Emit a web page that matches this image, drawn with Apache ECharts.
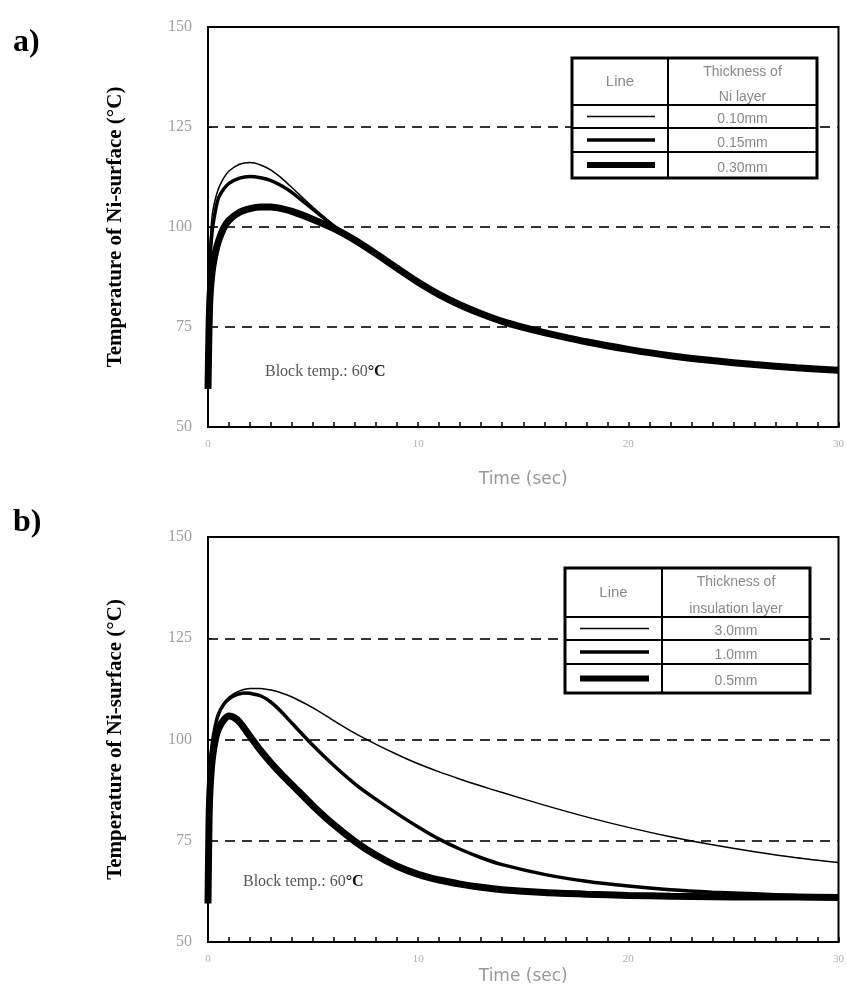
<!DOCTYPE html>
<html>
<head>
<meta charset="utf-8">
<script src="https://cdn.jsdelivr.net/npm/echarts@6/dist/echarts.min.js"></script>
<style>
  html, body { margin: 0; padding: 0; background: #fff; }
  #chart { width: 847px; height: 989px; }
</style>
</head>
<body>
<div id="chart"></div>
<script>
// panel a) - thickness of Ni layer
var timesA = [0, 0.05, 0.1, 0.2, 0.35, 0.5, 0.75, 1, 1.5, 2, 2.5, 3, 3.5, 4, 5, 6, 7, 8, 9, 10, 11, 12, 13, 14, 15, 16, 18, 20, 22, 24, 26, 28, 30]
var thinA = [60, 88, 96, 103, 107, 109.6, 112.3, 114, 115.7, 116.1, 115.5, 114.2, 112.2, 109.8, 104.9, 100.4, 96.7, 93.3, 89.8, 86.3, 83.2, 80.6, 78.4, 76.5, 75, 73.7, 71.4, 69.5, 68, 66.8, 65.8, 65, 64.4]
var medA = [60, 84, 92, 99, 104, 107.3, 109.5, 110.9, 112.2, 112.6, 112.3, 111.6, 110.3, 108.6, 104.4, 100.2, 96.6, 93.2, 89.7, 86.2, 83.1, 80.5, 78.3, 76.4, 74.9, 73.6, 71.3, 69.4, 67.9, 66.7, 65.7, 64.9, 64.3]
var thickA = [59.5, 75, 83, 89, 93.5, 96.5, 99.8, 101.7, 103.7, 104.6, 105, 105, 104.6, 103.9, 101.9, 99.6, 96.7, 93.3, 89.7, 86.2, 83.1, 80.5, 78.3, 76.4, 74.9, 73.6, 71.3, 69.4, 67.8, 66.6, 65.6, 64.8, 64.2]
var legendHeadA = ['Thickness of', 'Ni layer']
var legendRowsA = ['0.10mm', '0.15mm', '0.30mm']

// panel b) - thickness of insulation layer
var timesB = [0, 0.05, 0.1, 0.2, 0.35, 0.5, 0.75, 1, 1.25, 1.5, 1.75, 2, 2.5, 3, 3.5, 4, 5, 6, 7, 8, 9, 10, 11, 12, 13, 14, 16, 18, 20, 22, 24, 26, 28, 30]
var thinB = [60, 85, 93, 99, 103.5, 106.5, 109, 110.5, 111.4, 112, 112.4, 112.6, 112.6, 112.2, 111.5, 110.5, 107.8, 104.6, 101.5, 98.8, 96.3, 94, 92, 90.2, 88.5, 86.9, 83.8, 80.9, 78.3, 76, 74, 72.3, 70.8, 69.6]
var medB = [60, 85, 93, 99, 103.5, 106.3, 108.7, 110, 110.8, 111.3, 111.5, 111.4, 110.8, 109.2, 106.8, 104, 98.5, 93.5, 89, 85.2, 81.7, 78.4, 75.4, 72.9, 70.8, 69.1, 66.7, 65, 63.8, 62.9, 62.3, 61.9, 61.5, 61.3]
var thickB = [59.5, 80, 88, 95, 100, 102.6, 104.8, 105.8, 105.4, 104.3, 102.6, 100.8, 97.3, 94.2, 91.4, 88.8, 83.6, 78.9, 74.8, 71.4, 68.7, 66.7, 65.3, 64.3, 63.5, 62.9, 62.2, 61.8, 61.5, 61.3, 61.2, 61.1, 61.1, 61]
var legendHeadB = ['Thickness of', 'insulation layer']
var legendRowsB = ['3.0mm', '1.0mm', '0.5mm']

var lineWidths = [1.5, 3.5, 7]

function pairs(ts, vs) {
  return ts.map(function (t, i) { return [t, vs[i]] })
}

function xAxisFor(idx, gap) {
  return {
    gridIndex: idx,
    type: 'value',
    min: 0,
    max: 30,
    interval: 1,
    axisLine: { lineStyle: { color: '#000', width: 2 } },
    axisTick: { inside: true, length: 5, lineStyle: { color: '#000', width: 1.5 } },
    axisLabel: {
      color: '#b0b0b0',
      fontSize: 11,
      fontFamily: 'Liberation Serif',
      margin: 12,
      formatter: function (v) { return v % 10 === 0 ? String(v) : '' }
    },
    splitLine: { show: false },
    name: 'Time (sec)',
    nameLocation: 'middle',
    nameGap: gap,
    nameTextStyle: { color: '#999', fontSize: 17, fontFamily: 'DejaVu Sans' }
  }
}

function yAxisFor(idx) {
  return {
    gridIndex: idx,
    type: 'value',
    min: 50,
    max: 150,
    interval: 25,
    axisLine: { show: true, lineStyle: { color: '#000', width: 2 } },
    axisTick: { show: true, inside: true, length: 4, lineStyle: { color: '#000' } },
    axisLabel: { color: '#a0a0a0', fontSize: 16, fontFamily: 'Liberation Serif', margin: 16 },
    splitLine: {
      show: true,
      showMinLine: false,
      showMaxLine: false,
      lineStyle: { color: '#333', width: 2, type: [10, 7] }
    },
    name: 'Temperature of Ni-surface (°C)',
    nameLocation: 'middle',
    nameGap: 82,
    nameTextStyle: { color: '#000', fontSize: 21, fontWeight: 'bold', fontFamily: 'Liberation Serif' }
  }
}

function lineSeries(idx, ts, vs, w) {
  return {
    type: 'line',
    xAxisIndex: idx,
    yAxisIndex: idx,
    data: pairs(ts, vs),
    showSymbol: false,
    smooth: 0.25,
    lineStyle: { color: '#000', width: w },
    z: 3
  }
}

// legend table drawn as graphic elements
function table(x, y, w, colX, rowY, head, rows) {
  var h = rowY[3] - y
  var els = []
  els.push({ type: 'rect', shape: { x: x, y: y, width: w, height: h },
    style: { fill: '#fff', stroke: '#000', lineWidth: 3 }, z: 100 })
  els.push({ type: 'line', shape: { x1: colX, y1: y, x2: colX, y2: y + h },
    style: { stroke: '#000', lineWidth: 2 }, z: 101 })
  for (var i = 0; i < 3; i++) {
    els.push({ type: 'line', shape: { x1: x, y1: rowY[i], x2: x + w, y2: rowY[i] },
      style: { stroke: '#000', lineWidth: 2 }, z: 101 })
  }
  var font = '14px "Liberation Sans"'
  var cx1 = (x + colX) / 2
  var cx2 = (colX + x + w) / 2
  els.push({ type: 'text', x: cx1, y: (y + rowY[0]) / 2,
    style: { text: 'Line', fill: '#888', font: '15px "Liberation Sans"', align: 'center', verticalAlign: 'middle' }, z: 102 })
  els.push({ type: 'text', x: cx2, y: y + 14,
    style: { text: head[0], fill: '#888', font: font, align: 'center', verticalAlign: 'middle' }, z: 102 })
  els.push({ type: 'text', x: cx2, y: rowY[0] - 8,
    style: { text: head[1], fill: '#888', font: font, align: 'center', verticalAlign: 'middle' }, z: 102 })
  var tops = [rowY[0], rowY[1], rowY[2]]
  var bots = [rowY[1], rowY[2], rowY[3]]
  for (var r = 0; r < 3; r++) {
    var my = (tops[r] + bots[r]) / 2
    els.push({ type: 'line', shape: { x1: x + 15, y1: my, x2: colX - 13, y2: my },
      style: { stroke: '#000', lineWidth: lineWidths[r] - (r === 2 ? 1 : 0) }, z: 102 })
    els.push({ type: 'text', x: cx2, y: my + 3,
      style: { text: rows[r], fill: '#888', font: font, align: 'center', verticalAlign: 'middle' }, z: 102 })
  }
  return els
}

var blockRich = {
  n: { fontFamily: 'Liberation Serif', fontSize: 16, fill: '#555' },
  b: { fontFamily: 'Liberation Serif', fontSize: 16, fontWeight: 'bold', fill: '#111' }
}

var chart = echarts.init(document.getElementById('chart'))
chart.setOption({
  backgroundColor: '#ffffff',
  animation: false,
  grid: [
    { left: 208, right: 7, top: 27, height: 400, show: true, borderColor: '#000', borderWidth: 2 },
    { left: 208, right: 7, top: 537, height: 405, show: true, borderColor: '#000', borderWidth: 2 }
  ],
  xAxis: [xAxisFor(0, 44), xAxisFor(1, 26)],
  yAxis: [yAxisFor(0), yAxisFor(1)],
  series: [
    lineSeries(0, timesA, thinA, lineWidths[0]),
    lineSeries(0, timesA, medA, lineWidths[1]),
    lineSeries(0, timesA, thickA, lineWidths[2]),
    lineSeries(1, timesB, thinB, lineWidths[0]),
    lineSeries(1, timesB, medB, lineWidths[1]),
    lineSeries(1, timesB, thickB, lineWidths[2])
  ],
  graphic: [
    { type: 'text', left: 13, top: 27, style: { text: 'a)', font: 'bold 32px "Liberation Serif"', fill: '#000' } },
    { type: 'text', left: 13, top: 507, style: { text: 'b)', font: 'bold 32px "Liberation Serif"', fill: '#000' } },
    { type: 'text', x: 265, y: 372, style: { text: '{n|Block temp.: 60}{b|°C}', rich: blockRich, verticalAlign: 'middle' }, z: 50 },
    { type: 'text', x: 243, y: 882, style: { text: '{n|Block temp.: 60}{b|°C}', rich: blockRich, verticalAlign: 'middle' }, z: 50 }
  ]
    .concat(table(572, 58, 245, 668, [105, 128, 152, 178], legendHeadA, legendRowsA))
    .concat(table(565, 568, 245, 662, [617, 640, 664, 693], legendHeadB, legendRowsB))
})
</script>
</body>
</html>
